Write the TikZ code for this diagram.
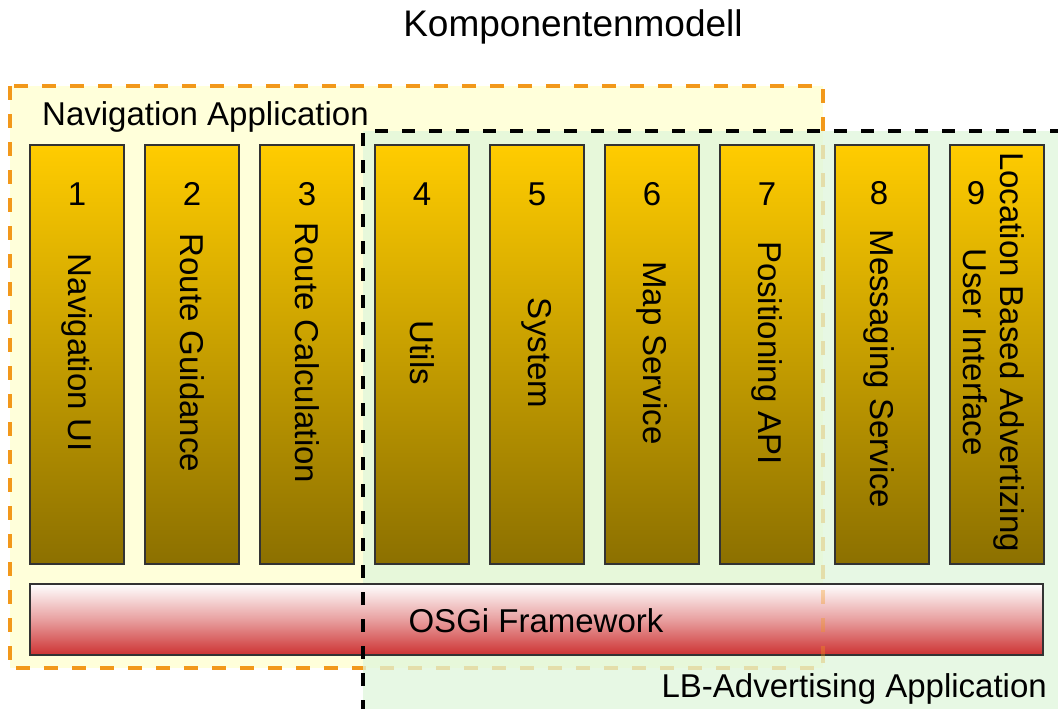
\documentclass[tikz,border=0pt]{standalone}
\usepackage{fontspec}
\setmainfont{Liberation Sans}
\definecolor{navfill}{RGB}{255,255,218}
\definecolor{navline}{RGB}{242,152,26}
\definecolor{lbfill}{RGB}{224,246,219}
\definecolor{coltop}{RGB}{255,204,0}
\definecolor{colbot}{RGB}{140,112,0}
\definecolor{osgibot}{RGB}{205,50,50}
\definecolor{osgimid}{RGB}{232,160,160}
\begin{document}
\begin{tikzpicture}[x=1pt,y=-1pt,
  big/.style={font=\fontsize{33}{37}\selectfont, inner sep=0pt},
  comp/.style={draw=black!80, line width=1.3pt, top color=coltop, bottom color=colbot,
    minimum width=94pt, minimum height=419pt, inner sep=0pt},
  num/.style={big, anchor=base},
  vlabel/.style={big, rotate=-90, anchor=center, align=center},
  bar/.style={draw=black!80, line width=1.3pt, top color=white, bottom color=osgibot,
    middle color=osgimid, minimum width=1013pt, minimum height=71pt, inner sep=0pt},
  navdash/.style={navline, line width=4pt, dash pattern=on 14pt off 14pt},
  lbdash/.style={black, line width=3.5pt, dash pattern=on 13pt off 14pt}]
\useasboundingbox (0,0) rectangle (1058,709);
\clip (0,0) rectangle (1058,709);
\fill[white] (0,0) rectangle (1058,709);
% Navigation Application area
\draw[navdash, fill=navfill] (10,86) rectangle (823,668);
% LB-Advertising Application area (semi-transparent)
\fill[lbfill, fill opacity=0.75] (363,131) rectangle (1090,740);
% title and labels
\node[font=\fontsize{37}{42}\selectfont, anchor=base, inner sep=0pt] (title) at (573,37) {Komponentenmodell};
\node[big, anchor=base west] (navlabel) at (42,125) {Navigation Application};
\node[big, anchor=base east] (lblabel) at (1047,697) {LB-Advertising Application};
% components
\foreach \i/\t in {1/Navigation UI,2/Route Guidance,3/Route Calculation,4/Utils,5/System,6/Map Service,7/Positioning API}{
  \node[comp] (c\i) at ({77+115*(\i-1)},354.5) {};
  \node[num] (n\i) at ({77+115*(\i-1)},205) {\i};
  \node[vlabel] (t\i) at ({77+115*(\i-1)},353) {\t};
}
\node[comp] (c8) at (882,354.5) {};
\node[num] (n8) at (879,204) {8};
\node[vlabel] (t8) at (879,369) {Messaging Service};
\node[comp] (c9) at (997,354.5) {};
\node[num] (n9) at (976,204) {9};
\node[vlabel] (t9) at (993.5,352) {Location Based Advertizing\\User Interface};
% OSGi framework
\node[bar] (osgi) at (536.5,619.5) {};
\node[big, anchor=base] (osgit) at (536,632) {OSGi Framework};
% faint orange edge over the bar
\begin{scope}
  \clip (800,584) rectangle (846,655);
  \draw[navdash, draw opacity=0.35] (823,86) -- (823,668);
\end{scope}
% LB-Advertising dashed border
\draw[lbdash] (363,740) -- (363,131) -- (1090,131);
\end{tikzpicture}
\end{document}
